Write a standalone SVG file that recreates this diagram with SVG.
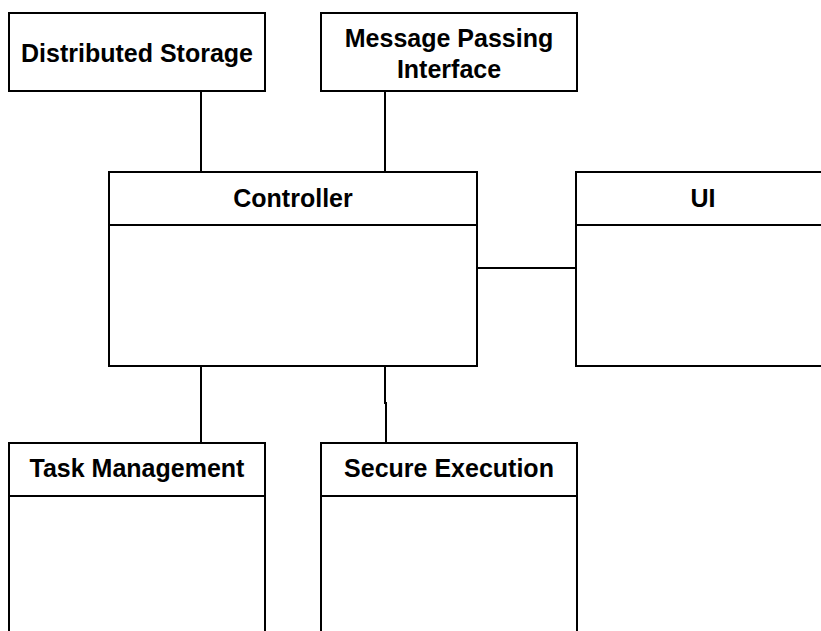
<svg xmlns="http://www.w3.org/2000/svg" width="821" height="631" viewBox="0 0 821 631">
<style>
.box{fill:#fff;stroke:#000;stroke-width:2}
.sep{stroke:#000;stroke-width:2}
.lbl{font-family:"Liberation Sans",Arial,sans-serif;font-weight:bold;font-size:25px;fill:#000;text-anchor:middle}
.con{stroke:#000;stroke-width:2;fill:none}
</style>
<rect x="0" y="0" width="821" height="631" fill="#fff"/>
<g id="connectors">
<line class="con" x1="201" y1="91" x2="201" y2="172"/>
<line class="con" x1="385" y1="91" x2="385" y2="172"/>
<line class="con" x1="477" y1="268" x2="576" y2="268"/>
<polyline class="con" points="201,366 201,403 201,443"/>
<polyline class="con" points="385,366 385,403 386,403 386,443"/>
</g>
<g id="distributed-storage">
<rect class="box" x="9" y="13" width="256" height="78"/>
<text class="lbl" x="137" y="62">Distributed Storage</text>
</g>
<g id="message-passing-interface">
<rect class="box" x="321" y="13" width="256" height="78"/>
<text class="lbl" x="449" y="47">Message Passing</text>
<text class="lbl" x="449" y="78">Interface</text>
</g>
<g id="controller">
<rect class="box" x="109" y="172" width="368" height="194"/>
<line class="sep" x1="109" y1="225" x2="477" y2="225"/>
<text class="lbl" x="293" y="207">Controller</text>
</g>
<g id="ui">
<rect class="box" x="576" y="172" width="256" height="194"/>
<line class="sep" x1="576" y1="225" x2="832" y2="225"/>
<text class="lbl" x="703" y="207">UI</text>
</g>
<g id="task-management">
<rect class="box" x="9" y="443" width="256" height="220"/>
<line class="sep" x1="9" y1="496" x2="265" y2="496"/>
<text class="lbl" x="137" y="477">Task Management</text>
</g>
<g id="secure-execution">
<rect class="box" x="321" y="443" width="256" height="220"/>
<line class="sep" x1="321" y1="496" x2="577" y2="496"/>
<text class="lbl" x="449" y="477">Secure Execution</text>
</g>
</svg>
